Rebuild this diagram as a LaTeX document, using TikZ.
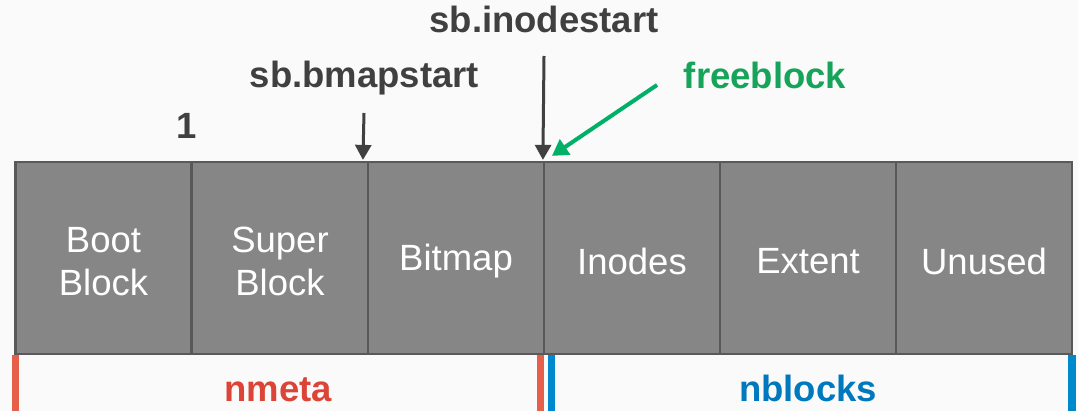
\documentclass[tikz,border=0pt]{standalone}
\usepackage{fontspec}
\setmainfont{Liberation Sans}
\usetikzlibrary{arrows.meta}
\definecolor{bgc}{RGB}{250,250,250}
\definecolor{blockfill}{RGB}{134,134,134}
\definecolor{blockline}{RGB}{89,89,89}
\definecolor{darktext}{RGB}{64,64,64}
\definecolor{greentext}{RGB}{22,163,90}
\definecolor{greenarrow}{RGB}{0,176,104}
\definecolor{redtext}{RGB}{219,68,55}
\definecolor{redbar}{RGB}{230,95,75}
\definecolor{bluetext}{RGB}{0,120,190}
\definecolor{bluebar}{RGB}{0,136,204}
\tikzset{
  block/.style={draw=blockline, line width=2.2pt, fill=blockfill,
    minimum width=176pt, minimum height=192pt, inner sep=0pt},
  blocktext/.style={text=white, inner sep=0pt, align=center, yshift=-3.5pt,
    font=\fontsize{36.5}{43}\selectfont},
  lbl/.style={anchor=base, inner sep=0pt, font=\fontsize{36.5}{43}\selectfont\bfseries},
  ptr/.style={draw=darktext, line width=3pt, -{Triangle[length=15pt,width=16pt]}},
  gptr/.style={draw=greenarrow, line width=4pt, -{Triangle[length=16pt,width=18pt]}},
}
\begin{document}
\begin{tikzpicture}[x=1pt,y=-1pt]
  % canvas
  \fill[bgc] (0,0) rectangle (1078,411);
  \useasboundingbox (0,0) rectangle (1078,411);

  % disk layout blocks
  \node[block, label={[blocktext]center:Boot\\Block}] (b1) at (103.5,258) {};
  \node[block, label={[blocktext]center:Super\\Block}] (b2) at (280,258) {};
  \node[block, label={[blocktext]center:Bitmap}] (b3) at (456,258) {};
  \node[block, label={[blocktext]center:Inodes}] (b4) at (632,258) {};
  \node[block, label={[blocktext]center:Extent}] (b5) at (808,258) {};
  \node[block, label={[blocktext]center:Unused}] (b6) at (984,258) {};

  % pointer labels
  \node[lbl, text=darktext] (one) at (187,139) {1};
  \node[lbl, text=darktext] (bmap) at (364.5,88) {sb.bmapstart};
  \node[lbl, text=darktext] (inode) at (544,33) {sb.inodestart};
  \node[lbl, text=greentext] (free) at (765,89) {freeblock};

  \coordinate (bmaptop) at (364,113);
  \coordinate (inodetop) at (544,56);
  \coordinate (freetail) at (657,85);

  \draw[ptr] (bmaptop) -- ([xshift=-4pt,yshift=1pt]b3.north west);
  \draw[ptr] (inodetop) -- ([yshift=1pt]b4.north west);
  \draw[gptr] (freetail) -- ([xshift=9pt,yshift=5pt]b4.north west);

  % range markers
  \fill[redbar] (12,355) rectangle (19,411);
  \fill[redbar] (537,355) rectangle (544,411);
  \fill[bluebar] (548,355) rectangle (555,411);
  \fill[bluebar] (1068,355) rectangle (1076,411);

  \node[lbl, text=redtext] (nmeta) at (278,401) {nmeta};
  \node[lbl, text=bluetext] (nblocks) at (808,401) {nblocks};
\end{tikzpicture}
\end{document}
